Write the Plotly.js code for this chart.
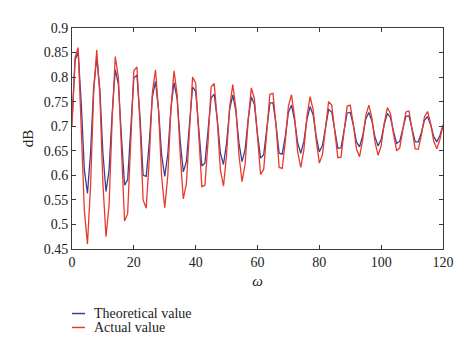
<!DOCTYPE html>
<html>
<head>
<meta charset="utf-8">
<script src="https://cdn.plot.ly/plotly-3.0.1.min.js"></script>
<style>html,body{margin:0;padding:0;background:#fff;}#chart{width:474px;height:353px;}</style>
</head>
<body>
<div id="chart"></div>
<script>
// omega samples 0..120
const omega = Array.from({length: 121}, (_, i) => i);

const theoreticalValue = [
  0.71, 0.835, 0.85, 0.745, 0.611, 0.563, 0.646, 0.778, 0.84, 0.775,
  0.645, 0.567, 0.611, 0.728, 0.815, 0.785, 0.678, 0.58, 0.591, 0.696,
  0.798, 0.804, 0.718, 0.60, 0.598, 0.667, 0.760, 0.791, 0.733, 0.641,
  0.598, 0.644, 0.736, 0.789, 0.756, 0.670, 0.607, 0.628, 0.711, 0.78,
  0.771, 0.695, 0.619, 0.625, 0.685, 0.758, 0.765, 0.713, 0.645, 0.622,
  0.666, 0.734, 0.764, 0.731, 0.666, 0.628, 0.653, 0.715, 0.76, 0.744,
  0.684, 0.635, 0.642, 0.695, 0.747, 0.748, 0.703, 0.645, 0.643, 0.680,
  0.728, 0.743, 0.712, 0.666, 0.645, 0.669, 0.714, 0.74, 0.723, 0.679,
  0.648, 0.660, 0.699, 0.734, 0.729, 0.691, 0.655, 0.656, 0.688, 0.727,
  0.728, 0.702, 0.668, 0.658, 0.680, 0.714, 0.728, 0.711, 0.678, 0.66,
  0.673, 0.704, 0.726, 0.718, 0.689, 0.665, 0.669, 0.696, 0.72, 0.721,
  0.697, 0.668, 0.668, 0.687, 0.712, 0.72, 0.703, 0.679, 0.668, 0.681,
  0.702
];

const actualValue = [
  0.70, 0.84, 0.86, 0.71, 0.527, 0.46, 0.578, 0.767, 0.855, 0.765,
  0.583, 0.475, 0.540, 0.714, 0.842, 0.799, 0.647, 0.507, 0.522, 0.669,
  0.813, 0.821, 0.703, 0.55, 0.533, 0.634, 0.769, 0.815, 0.731, 0.596,
  0.534, 0.601, 0.735, 0.813, 0.765, 0.642, 0.552, 0.583, 0.701, 0.80,
  0.788, 0.682, 0.577, 0.58, 0.668, 0.78, 0.787, 0.711, 0.611, 0.578,
  0.642, 0.740, 0.785, 0.737, 0.642, 0.587, 0.623, 0.713, 0.778, 0.756,
  0.671, 0.602, 0.612, 0.690, 0.765, 0.767, 0.701, 0.616, 0.614, 0.669,
  0.741, 0.764, 0.718, 0.647, 0.616, 0.652, 0.721, 0.76, 0.734, 0.671,
  0.625, 0.642, 0.699, 0.75, 0.743, 0.688, 0.636, 0.637, 0.684, 0.741,
  0.743, 0.704, 0.654, 0.638, 0.671, 0.721, 0.743, 0.717, 0.668, 0.641,
  0.660, 0.706, 0.738, 0.726, 0.684, 0.65, 0.656, 0.694, 0.729, 0.731,
  0.695, 0.654, 0.653, 0.682, 0.719, 0.73, 0.706, 0.670, 0.654, 0.673,
  0.703
];

const seriesNames = ["Theoretical value", "Actual value"];
const yTickVals = [0.45, 0.5, 0.55, 0.6, 0.65, 0.7, 0.75, 0.8, 0.85, 0.9];
const yTickText = ["0.45", "0.5", "0.55", "0.6", "0.65", "0.7", "0.75", "0.8", "0.85", "0.9"];
const xTickVals = [0, 20, 40, 60, 80, 100, 120];

const BLUE = "#3d3f96";
const RED = "#e83a2c";
const FONT = "Liberation Serif, Times New Roman, serif";
const AXC = "#3a3a3a";

const traces = [
  {x: omega, y: theoreticalValue, name: seriesNames[0], type: "scatter", mode: "lines",
   line: {color: BLUE, width: 1.3}, showlegend: false},
  {x: omega, y: actualValue, name: seriesNames[1], type: "scatter", mode: "lines",
   line: {color: RED, width: 1.3}, showlegend: false}
];

const layout = {
  width: 474, height: 353,
  margin: {l: 72, r: 31, t: 28, b: 104},
  paper_bgcolor: "#fff", plot_bgcolor: "#fff",
  font: {family: FONT, size: 14, color: "#222"},
  xaxis: {
    range: [0, 120], tickvals: xTickVals, ticks: "inside", ticklen: 4, tickcolor: AXC,
    showline: true, linecolor: AXC, linewidth: 1, mirror: "ticks", showgrid: false, zeroline: false,
    title: {text: "<i>ω</i>", font: {family: FONT, size: 15}, standoff: 6},
    automargin: false
  },
  yaxis: {
    range: [0.45, 0.9], tickvals: yTickVals, ticktext: yTickText, ticks: "inside", ticklen: 4, tickcolor: AXC,
    showline: true, linecolor: AXC, linewidth: 1, mirror: "ticks", showgrid: false, zeroline: false,
    title: {text: "dB", font: {family: FONT, size: 15}, standoff: 6},
    automargin: false
  },
  showlegend: false,
  shapes: [
    {type: "line", xref: "paper", yref: "paper", x0: 0.0, x1: 0.035, y0: -0.292, y1: -0.292, line: {color: BLUE, width: 1.5}},
    {type: "line", xref: "paper", yref: "paper", x0: 0.0, x1: 0.035, y0: -0.355, y1: -0.355, line: {color: RED, width: 1.5}}
  ],
  annotations: [
    {xref: "paper", yref: "paper", x: 0.055, y: -0.292, xanchor: "left", yanchor: "middle", showarrow: false,
     text: seriesNames[0], font: {family: FONT, size: 14, color: "#222"}},
    {xref: "paper", yref: "paper", x: 0.055, y: -0.355, xanchor: "left", yanchor: "middle", showarrow: false,
     text: seriesNames[1], font: {family: FONT, size: 14, color: "#222"}}
  ]
};

Plotly.newPlot("chart", traces, layout, {displayModeBar: false, staticPlot: true});
</script>
</body>
</html>
